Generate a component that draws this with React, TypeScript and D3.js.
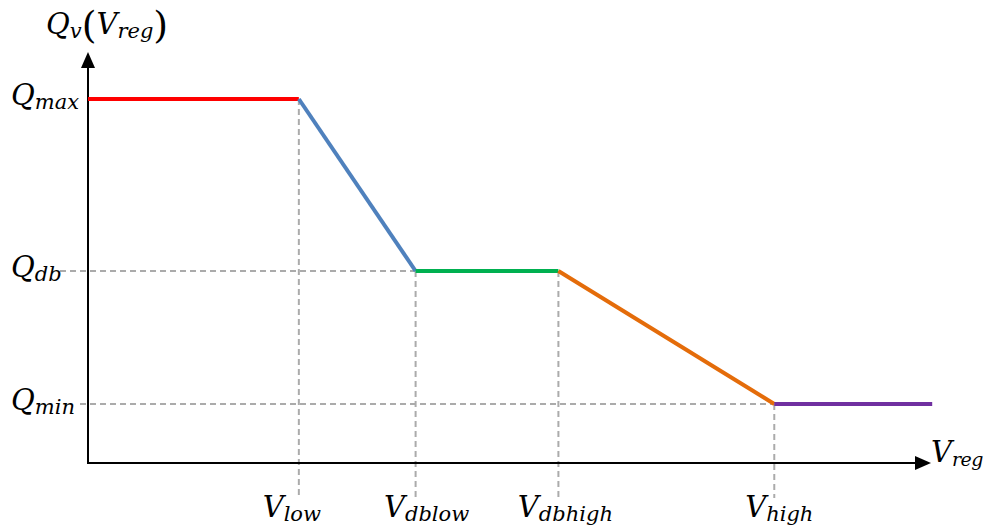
import React from "react";
import * as d3 from "d3";

// Breakpoints (abstract units)
const xBreaks = [0, 25.1, 39.0, 56.0, 81.7, 100.5];
const yLevels = [91, 91, 48, 48, 14.75, 14.75];
const segColors = ["#ff0000", "#4f81bd", "#00b050", "#e46c0a", "#7030a0"];
const xLabelMain = ["V", "V", "V", "V"];
const xLabelSub = ["low", "dblow", "dbhigh", "high"];
const yLabelSub = ["max", "db", "min"];

const W = 984;
const H = 531;

export default function App() {
  const x = d3.scaleLinear().domain([0, 100]).range([88, 928]);
  const y = d3.scaleLinear().domain([0, 100]).range([463, 63]);
  const ox = x(0);
  const oy = y(0);
  const font = "'DejaVu Serif', serif";
  const big = 29;
  const sub = 21;

  const segs = segColors.map((c, i) => ({
    c,
    x1: x(xBreaks[i]),
    y1: y(yLevels[i]),
    x2: x(xBreaks[i + 1]),
    y2: y(yLevels[i + 1]),
  }));

  const yLab = [yLevels[0], yLevels[2], yLevels[4]];
  const yDashStart = [82, 60, 80];
  const xLabIdx = [1, 2, 3, 4];
  const xLabOffset = [-7, 11, 7, 5];

  return (
    <svg width={W} height={H} style={{ display: "block", position: "absolute", left: 0, top: 0 }}>
      <rect width={W} height={H} fill="#fff" />
      {yLab.slice(1).map((v, i) => (
        <line
          key={"hd" + i}
          x1={yDashStart[i + 1]}
          x2={x(xBreaks[i === 0 ? 2 : 4])}
          y1={y(v)}
          y2={y(v)}
          stroke="#ababab"
          strokeWidth={2}
          strokeDasharray="6,4"
        />
      ))}
      {xLabIdx.map((k, i) => (
        <line
          key={"vd" + i}
          x1={x(xBreaks[k])}
          x2={x(xBreaks[k])}
          y1={y(yLevels[k])}
          y2={498}
          stroke="#ababab"
          strokeWidth={2}
          strokeDasharray="6,4"
        />
      ))}
      <line x1={ox} x2={ox} y1={oy + 1} y2={66} stroke="#000" strokeWidth={2} />
      <path d={`M${ox},52 L${ox - 7},68 L${ox + 7},68 Z`} fill="#000" />
      <line x1={ox - 1} x2={916} y1={oy} y2={oy} stroke="#000" strokeWidth={2} />
      <path d={`M931,${oy} L915,${oy - 7} L915,${oy + 7} Z`} fill="#000" />
      {segs.map((s, i) => (
        <line key={"s" + i} x1={s.x1} y1={s.y1} x2={s.x2} y2={s.y2} stroke={s.c} strokeWidth={4} />
      ))}
      {yLab.map((v, i) => (
        <text key={"yl" + i} x={11} y={y(v) + 6} fontFamily={font} fontStyle="italic" fontSize={big} fill="#000">
          Q
          <tspan fontSize={sub} dy={4}>
            {yLabelSub[i]}
          </tspan>
        </text>
      ))}
      {xLabIdx.map((k, i) => (
        <text
          key={"xl" + i}
          x={x(xBreaks[k]) + xLabOffset[i]}
          y={517}
          textAnchor="middle"
          fontFamily={font}
          fontStyle="italic"
          fontSize={big}
          fill="#000"
        >
          {xLabelMain[i]}
          <tspan fontSize={sub} dy={4}>
            {xLabelSub[i]}
          </tspan>
        </text>
      ))}
      <text x={931} y={462} fontFamily={font} fontStyle="italic" fontSize={big} fill="#000">
        V
        <tspan fontSize={19} dy={4} letterSpacing={-0.5}>reg</tspan>
      </text>
      <text x={46} y={34} fontFamily={font} fontStyle="italic" fontSize={big} fill="#000">
        Q
        <tspan fontSize={sub} dy={4}>v</tspan>
        <tspan fontSize={38} dy={0} fontStyle="normal" fontWeight={300}>(</tspan>
        <tspan fontSize={big} dy={-4}>V</tspan>
        <tspan fontSize={sub} dy={4}>reg</tspan>
        <tspan fontSize={38} dy={0} fontStyle="normal" fontWeight={300}>)</tspan>
      </text>
    </svg>
  );
}
